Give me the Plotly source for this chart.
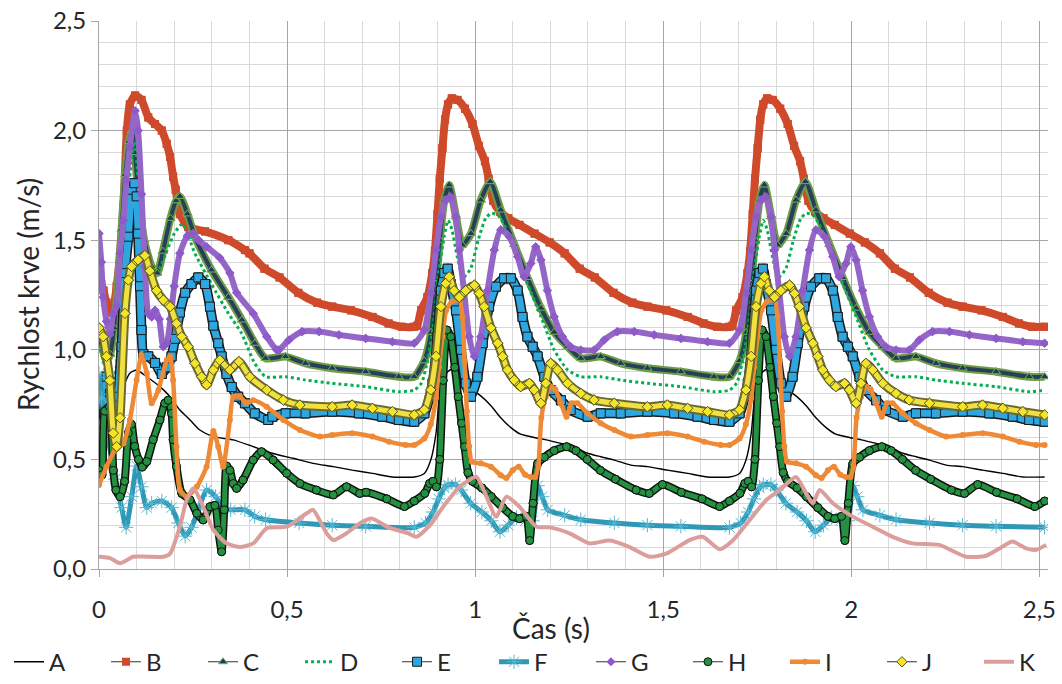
import plotly.graph_objects as go

# ---------------- data (time s, velocity m/s) ----------------
T_CYCLE = 0.838          # heart-cycle length read from the repeating peaks
X_END = 2.523

SERIES_NAMES = ["A", "B", "C", "D", "E", "F", "G", "H", "I", "J", "K"]
X_TICKS = [0, 0.5, 1, 1.5, 2, 2.5]
X_TICK_TEXT = ["0", "0,5", "1", "1,5", "2", "2,5"]
Y_TICKS = [0, 0.5, 1, 1.5, 2, 2.5]
Y_TICK_TEXT = ["0,0", "0,5", "1,0", "1,5", "2,0", "2,5"]

# first cycle (as read) and the repeating cycle (relative time, as read from cycles 2-3)
A_first = [(0, 0.46), (0.012, 0.44), (0.028, 0.5), (0.038, 0.558), (0.051, 0.71), (0.065, 0.832), (0.082, 0.893),
           (0.1, 0.908), (0.127, 0.877), (0.162, 0.832), (0.189, 0.786), (0.215, 0.725), (0.242, 0.68),
           (0.268, 0.634), (0.304, 0.604), (0.357, 0.589), (0.41, 0.558), (0.463, 0.527), (0.516, 0.505),
           (0.569, 0.482), (0.623, 0.467), (0.673, 0.451)]
A_cycle = [(0, 0.42), (0.027, 0.436), (0.044, 0.497), (0.058, 0.62), (0.066, 0.77), (0.075, 0.86), (0.089, 0.9),
           (0.1, 0.91), (0.115, 0.865), (0.133, 0.835), (0.155, 0.815), (0.177, 0.79), (0.204, 0.745), (0.23, 0.69),
           (0.257, 0.645), (0.283, 0.615), (0.319, 0.6), (0.354, 0.588), (0.39, 0.573), (0.425, 0.558),
           (0.461, 0.528), (0.496, 0.512), (0.532, 0.497), (0.576, 0.474), (0.62, 0.467), (0.673, 0.451),
           (0.727, 0.436), (0.78, 0.42), (0.838, 0.42)]

B_first = [(0, 1.372), (0.006, 1.3), (0.012, 1.27), (0.02, 1.215), (0.03, 1.17), (0.038, 1.19), (0.047, 1.29),
           (0.056, 1.44), (0.065, 1.65), (0.074, 2.0), (0.082, 2.12), (0.096, 2.16), (0.113, 2.14), (0.131, 2.06),
           (0.149, 2.03), (0.167, 2.0), (0.18, 1.94), (0.189, 1.88), (0.197, 1.79), (0.204, 1.73), (0.215, 1.62),
           (0.237, 1.56), (0.282, 1.54), (0.344, 1.5), (0.388, 1.455)]
B_cycle = [(0, 1.105), (0.008, 1.11), (0.018, 1.18), (0.035, 1.24), (0.048, 1.35), (0.055, 1.45), (0.062, 1.62),
           (0.068, 1.78), (0.075, 1.92), (0.082, 2.05), (0.09, 2.12), (0.1, 2.147), (0.115, 2.14), (0.135, 2.1),
           (0.155, 2.03), (0.172, 1.93), (0.188, 1.86), (0.198, 1.78), (0.21, 1.68), (0.228, 1.63), (0.25, 1.6),
           (0.28, 1.57), (0.32, 1.53), (0.36, 1.49), (0.4, 1.44), (0.44, 1.37), (0.48, 1.33), (0.53, 1.26),
           (0.58, 1.215), (0.62, 1.197), (0.67, 1.18), (0.727, 1.15), (0.77, 1.12), (0.805, 1.105), (0.838, 1.105)]

C_first = [(0, 1.06), (0.01, 1.0), (0.02, 0.95), (0.03, 0.98), (0.04, 1.1), (0.05, 1.3), (0.06, 1.55), (0.07, 1.8),
           (0.08, 1.95), (0.088, 2.0), (0.095, 1.9), (0.105, 1.7), (0.12, 1.5), (0.14, 1.38), (0.155, 1.35),
           (0.17, 1.45), (0.19, 1.6), (0.205, 1.68), (0.215, 1.7), (0.235, 1.62), (0.255, 1.516), (0.299, 1.364),
           (0.344, 1.24), (0.38, 1.136), (0.414, 1.03)]
C_cycle = [(0, 0.877), (0.027, 0.95), (0.045, 1.08), (0.058, 1.3), (0.068, 1.5), (0.08, 1.683), (0.093, 1.752),
           (0.111, 1.607), (0.128, 1.478), (0.151, 1.53), (0.177, 1.683), (0.202, 1.767), (0.23, 1.638),
           (0.266, 1.48), (0.301, 1.33), (0.337, 1.19), (0.372, 1.08), (0.408, 1.014), (0.443, 0.961),
           (0.496, 0.969), (0.549, 0.938), (0.62, 0.916), (0.709, 0.9), (0.797, 0.877), (0.838, 0.877)]

D_first = [(0, 1.08), (0.012, 0.95), (0.025, 0.86), (0.04, 0.87), (0.055, 1.1), (0.07, 1.5), (0.085, 1.85),
           (0.095, 1.95), (0.105, 1.75), (0.12, 1.5), (0.14, 1.36), (0.16, 1.37), (0.18, 1.45), (0.2, 1.53),
           (0.222, 1.575), (0.255, 1.44), (0.299, 1.3), (0.344, 1.166), (0.379, 1.075), (0.414, 0.938)]
D_cycle = [(0, 0.816), (0.02, 0.85), (0.035, 0.95), (0.05, 1.1), (0.065, 1.35), (0.08, 1.52), (0.09, 1.59),
           (0.1, 1.55), (0.115, 1.42), (0.13, 1.33), (0.15, 1.37), (0.17, 1.5), (0.19, 1.6), (0.205, 1.623),
           (0.225, 1.61), (0.25, 1.53), (0.266, 1.455), (0.301, 1.303), (0.337, 1.151), (0.372, 1.0),
           (0.408, 0.908), (0.443, 0.877), (0.496, 0.877), (0.549, 0.862), (0.62, 0.847), (0.709, 0.832),
           (0.797, 0.809), (0.838, 0.816)]

E_first = [(0, 0.55), (0.011, 0.665), (0.02, 0.877), (0.029, 0.8), (0.038, 0.68), (0.047, 0.68), (0.051, 0.786),
           (0.06, 1.014), (0.069, 1.35), (0.078, 1.516), (0.087, 1.73), (0.094, 1.76), (0.1, 1.7), (0.104, 1.53),
           (0.109, 1.29), (0.113, 1.09), (0.118, 0.98), (0.131, 0.97), (0.149, 0.94), (0.167, 0.89), (0.18, 0.92),
           (0.193, 0.97), (0.202, 1.05), (0.215, 1.17), (0.229, 1.26), (0.246, 1.3), (0.264, 1.33), (0.282, 1.3),
           (0.295, 1.197), (0.304, 1.11), (0.317, 1.03), (0.326, 0.97), (0.339, 0.89), (0.353, 0.83),
           (0.37, 0.786), (0.388, 0.756), (0.414, 0.71), (0.45, 0.68)]
E_cycle = [(0, 0.672), (0.027, 0.71), (0.049, 0.847), (0.062, 1.06), (0.071, 1.27), (0.08, 1.35), (0.089, 1.37),
           (0.097, 1.3), (0.111, 1.18), (0.124, 1.0), (0.137, 0.847), (0.151, 0.786), (0.168, 0.877), (0.182, 1.03),
           (0.199, 1.197), (0.217, 1.288), (0.239, 1.326), (0.257, 1.326), (0.275, 1.27), (0.288, 1.15),
           (0.301, 1.06), (0.315, 1.014), (0.328, 0.97), (0.346, 0.877), (0.363, 0.816), (0.39, 0.77),
           (0.416, 0.725), (0.461, 0.695), (0.496, 0.71), (0.549, 0.71), (0.62, 0.718), (0.691, 0.71),
           (0.753, 0.695), (0.797, 0.68), (0.838, 0.672)]

F_first = [(0, 0.89), (0.007, 0.78), (0.025, 0.59), (0.043, 0.41), (0.06, 0.28), (0.072, 0.19), (0.087, 0.33),
           (0.1, 0.47), (0.113, 0.375), (0.127, 0.28), (0.14, 0.3), (0.167, 0.31), (0.193, 0.28), (0.211, 0.21),
           (0.229, 0.15), (0.246, 0.19), (0.264, 0.27), (0.286, 0.36), (0.31, 0.33), (0.33, 0.28), (0.35, 0.27),
           (0.388, 0.27), (0.414, 0.24)]
F_cycle = [(0, 0.2), (0.03, 0.21), (0.05, 0.26), (0.065, 0.32), (0.08, 0.37), (0.09, 0.385), (0.11, 0.385),
           (0.125, 0.36), (0.15, 0.3), (0.18, 0.26), (0.205, 0.22), (0.228, 0.17), (0.25, 0.2), (0.272, 0.235),
           (0.295, 0.22), (0.315, 0.22), (0.328, 0.38), (0.34, 0.33), (0.355, 0.27), (0.4, 0.245), (0.443, 0.225),
           (0.532, 0.21), (0.62, 0.2), (0.709, 0.195), (0.838, 0.19)]

G_first = [(0, 1.53), (0.006, 1.4), (0.011, 1.24), (0.02, 1.13), (0.029, 1.07), (0.038, 1.166), (0.047, 1.2),
           (0.056, 1.44), (0.065, 1.59), (0.073, 1.775), (0.082, 1.927), (0.096, 2.09), (0.104, 2.0), (0.113, 1.71),
           (0.122, 1.38), (0.131, 1.166), (0.14, 1.15), (0.149, 1.18), (0.16, 1.14), (0.171, 1.014), (0.18, 1.03),
           (0.19, 1.14), (0.2, 1.29), (0.215, 1.44), (0.235, 1.52), (0.25, 1.53), (0.265, 1.5), (0.286, 1.47),
           (0.321, 1.42), (0.348, 1.35), (0.366, 1.26), (0.41, 1.166), (0.446, 1.06), (0.472, 1.0)]
G_cycle = [(0, 1.03), (0.027, 1.09), (0.044, 1.258), (0.058, 1.455), (0.071, 1.607), (0.084, 1.683),
           (0.097, 1.698), (0.111, 1.607), (0.12, 1.455), (0.133, 1.258), (0.146, 1.06), (0.16, 0.97),
           (0.177, 1.06), (0.195, 1.27), (0.213, 1.455), (0.23, 1.547), (0.253, 1.516), (0.275, 1.425),
           (0.292, 1.333), (0.31, 1.394), (0.323, 1.47), (0.337, 1.41), (0.354, 1.27), (0.372, 1.151),
           (0.394, 1.06), (0.416, 1.014), (0.443, 0.999), (0.478, 0.999), (0.505, 1.045), (0.54, 1.083),
           (0.585, 1.083), (0.638, 1.068), (0.709, 1.052), (0.78, 1.037), (0.838, 1.03)]

H_first = [(0, 0.45), (0.008, 0.43), (0.015, 0.72), (0.028, 0.74), (0.038, 0.45), (0.045, 0.36), (0.056, 0.33),
           (0.068, 0.4), (0.078, 0.62), (0.086, 0.66), (0.095, 0.56), (0.105, 0.5), (0.115, 0.465), (0.127, 0.49),
           (0.144, 0.59), (0.162, 0.68), (0.175, 0.756), (0.184, 0.77), (0.193, 0.71), (0.197, 0.59),
           (0.206, 0.467), (0.22, 0.345), (0.242, 0.315), (0.26, 0.254), (0.277, 0.224), (0.295, 0.284),
           (0.308, 0.29), (0.317, 0.178), (0.326, 0.079), (0.333, 0.27), (0.339, 0.47), (0.348, 0.45),
           (0.357, 0.39), (0.366, 0.368), (0.383, 0.406), (0.41, 0.497), (0.432, 0.535), (0.463, 0.497),
           (0.499, 0.437), (0.534, 0.39), (0.578, 0.36), (0.623, 0.338), (0.658, 0.375), (0.693, 0.345)]
H_cycle = [(0, 0.31), (0.028, 0.345), (0.041, 0.39), (0.05, 0.4), (0.059, 0.375), (0.068, 0.5), (0.077, 0.86),
           (0.087, 1.09), (0.097, 1.06), (0.108, 0.92), (0.117, 0.786), (0.126, 0.665), (0.134, 0.558),
           (0.143, 0.44), (0.155, 0.4), (0.18, 0.37), (0.205, 0.33), (0.235, 0.28), (0.262, 0.24), (0.28, 0.23),
           (0.298, 0.24), (0.307, 0.13), (0.316, 0.3), (0.328, 0.48), (0.346, 0.51), (0.372, 0.54), (0.405, 0.558),
           (0.43, 0.54), (0.46, 0.5), (0.495, 0.45), (0.535, 0.41), (0.59, 0.36), (0.625, 0.345), (0.66, 0.385),
           (0.71, 0.35), (0.765, 0.32), (0.812, 0.285), (0.838, 0.31)]

I_first = [(0, 0.383), (0.02, 0.467), (0.043, 0.543), (0.065, 0.573), (0.082, 0.68), (0.1, 0.862), (0.113, 0.976),
           (0.127, 0.893), (0.14, 0.756), (0.158, 0.817), (0.18, 0.953), (0.189, 0.969), (0.197, 0.862),
           (0.206, 0.558), (0.215, 0.36), (0.233, 0.33), (0.26, 0.375), (0.286, 0.467), (0.304, 0.63),
           (0.317, 0.558), (0.33, 0.467), (0.348, 0.68), (0.357, 0.786), (0.375, 0.786), (0.392, 0.756),
           (0.41, 0.77), (0.446, 0.74), (0.49, 0.68), (0.534, 0.634), (0.587, 0.604)]
I_cycle = [(0, 0.566), (0.027, 0.595), (0.044, 0.66), (0.058, 0.78), (0.066, 0.92), (0.075, 1.06), (0.085, 1.18),
           (0.1, 1.22), (0.12, 1.227), (0.128, 1.151), (0.134, 0.95), (0.14, 0.72), (0.146, 0.56), (0.153, 0.49),
           (0.177, 0.482), (0.204, 0.467), (0.23, 0.428), (0.245, 0.415), (0.262, 0.45), (0.278, 0.467),
           (0.295, 0.43), (0.31, 0.42), (0.322, 0.42), (0.33, 0.47), (0.338, 0.69), (0.35, 0.786), (0.363, 0.832),
           (0.375, 0.82), (0.39, 0.756), (0.405, 0.695), (0.418, 0.756), (0.434, 0.756), (0.461, 0.71),
           (0.496, 0.665), (0.532, 0.634), (0.576, 0.604), (0.62, 0.611), (0.673, 0.619), (0.727, 0.604),
           (0.771, 0.581), (0.815, 0.566), (0.838, 0.566)]

J_first = [(0, 1.1), (0.011, 1.06), (0.02, 0.97), (0.029, 0.86), (0.038, 0.62), (0.047, 0.558), (0.056, 0.69),
           (0.069, 1.166), (0.078, 1.318), (0.087, 1.38), (0.104, 1.41), (0.122, 1.43), (0.135, 1.36),
           (0.153, 1.27), (0.171, 1.227), (0.189, 1.197), (0.206, 1.12), (0.22, 1.06), (0.237, 1.014),
           (0.255, 0.938), (0.273, 0.877), (0.286, 0.84), (0.304, 0.908), (0.321, 0.953), (0.348, 0.908),
           (0.372, 0.946), (0.401, 0.877), (0.446, 0.817), (0.49, 0.771), (0.534, 0.748)]
J_cycle = [(0, 0.703), (0.027, 0.726), (0.044, 0.817), (0.058, 0.97), (0.071, 1.197), (0.084, 1.303),
           (0.093, 1.333), (0.106, 1.27), (0.12, 1.24), (0.137, 1.27), (0.16, 1.295), (0.173, 1.257),
           (0.186, 1.197), (0.204, 1.1), (0.222, 1.03), (0.235, 0.97), (0.248, 0.908), (0.266, 0.862),
           (0.283, 0.832), (0.306, 0.847), (0.319, 0.817), (0.337, 0.756), (0.35, 0.847), (0.363, 0.938),
           (0.381, 0.908), (0.408, 0.847), (0.443, 0.801), (0.478, 0.771), (0.532, 0.756), (0.62, 0.74),
           (0.673, 0.748), (0.727, 0.733), (0.78, 0.718), (0.838, 0.703)]

K_points = [(0, 0.056), (0.029, 0.05), (0.056, 0.026), (0.091, 0.056), (0.127, 0.056), (0.171, 0.056),
            (0.189, 0.07), (0.215, 0.193), (0.233, 0.315), (0.251, 0.368), (0.277, 0.284), (0.304, 0.178),
            (0.339, 0.117), (0.375, 0.1), (0.41, 0.117), (0.446, 0.186), (0.499, 0.193), (0.552, 0.254),
            (0.569, 0.27), (0.605, 0.163), (0.623, 0.132), (0.658, 0.163), (0.693, 0.208), (0.725, 0.23),
            (0.769, 0.19), (0.822, 0.163), (0.844, 0.147), (0.88, 0.2), (0.915, 0.284), (0.959, 0.375),
            (1.003, 0.42), (1.03, 0.33), (1.056, 0.239), (1.083, 0.33), (1.118, 0.284), (1.163, 0.193),
            (1.198, 0.19), (1.251, 0.163), (1.304, 0.117), (1.358, 0.13), (1.411, 0.1), (1.464, 0.056),
            (1.508, 0.07), (1.57, 0.132), (1.605, 0.147), (1.65, 0.09), (1.685, 0.13), (1.73, 0.224),
            (1.774, 0.315), (1.81, 0.36), (1.853, 0.42), (1.88, 0.345), (1.898, 0.3), (1.916, 0.36),
            (1.951, 0.3), (2.004, 0.239), (2.057, 0.193), (2.11, 0.147), (2.163, 0.117), (2.234, 0.11),
            (2.305, 0.056), (2.358, 0.06), (2.394, 0.094), (2.429, 0.125), (2.465, 0.094), (2.491, 0.087),
            (2.518, 0.11)]


def assemble(first, cycle):
    """First cycle as read, then the read repeating cycle placed at the 2nd and 3rd beats."""
    last = first[-1][0]
    pts = list(first) + [p for p in cycle if p[0] > last]
    for k in (1, 2):
        off = k * T_CYCLE
        pts += [(t + off, v) for t, v in cycle if t > 0 and t + off <= X_END]
    return [p[0] for p in pts], [p[1] for p in pts]


DATA = {
    "A": assemble(A_first, A_cycle),
    "B": assemble(B_first, B_cycle),
    "C": assemble(C_first, C_cycle),
    "D": assemble(D_first, D_cycle),
    "E": assemble(E_first, E_cycle),
    "F": assemble(F_first, F_cycle),
    "G": assemble(G_first, G_cycle),
    "H": assemble(H_first, H_cycle),
    "I": assemble(I_first, I_cycle),
    "J": assemble(J_first, J_cycle),
    "K": ([p[0] for p in K_points], [p[1] for p in K_points]),
}

# ---------------- styles ----------------
# bands: (color, width) ribbons drawn under the markers to mimic the dense marker runs
STYLE = {
    "A": dict(line=("#000000", 1.4)),
    "B": dict(marker=dict(symbol="square", size=8, color="#cf4a2b", line=dict(width=0)),
              bands=[("#cf4a2b", 8)]),
    "C": dict(marker=dict(symbol="triangle-up", size=8, color="#203864", line=dict(color="#7ab648", width=1)),
              bands=[("#6f9a48", 8), ("#26405a", 4)]),
    "D": dict(line=("#00b050", 3), dash="dot"),
    "E": dict(marker=dict(symbol="square", size=9, color="#2ea7e0", line=dict(color="#1a1a1a", width=1)),
              bands=[("#1a1a1a", 10), ("#2ea7e0", 7)]),
    "F": dict(line=("#2e98b6", 5), marker=dict(symbol="asterisk-open", size=12, color="#55b8d2",
                                                 line=dict(color="#55b8d2", width=1))),
    "G": dict(marker=dict(symbol="diamond", size=7, color="#8e5ac8", line=dict(width=0)),
              bands=[("#9466c8", 6)]),
    "H": dict(marker=dict(symbol="circle", size=8, color="#23913f", line=dict(color="#111111", width=1)),
              bands=[("#111111", 8), ("#23913f", 5)]),
    "I": dict(line=("#ee8a36", 4.5), marker=dict(symbol="circle", size=6, color="#ee8a36", line=dict(width=0))),
    "J": dict(marker=dict(symbol="diamond", size=8, color="#f4e526", line=dict(color="#55552a", width=1)),
              bands=[("#6b6a2e", 9), ("#f0e040", 5)]),
    "K": dict(line=("#dc9e9b", 4)),
}
LEGEND_OF = {n: ("legend" if n in "ABCDEF" else "legend2") for n in SERIES_NAMES}

SPLINE = dict(shape="spline", smoothing=0.6)

fig = go.Figure()
for name in SERIES_NAMES:
    xs, ys = DATA[name]
    st = STYLE[name]
    lg = LEGEND_OF[name]
    if "bands" in st:
        # legend entry look: thin black connector with marker
        fig.add_trace(go.Scatter(x=xs, y=ys, name=name, mode="lines+markers", legend=lg,
                                 line=dict(color="#333333", width=1, **SPLINE), marker=st["marker"]))
        for col, w in st["bands"]:
            fig.add_trace(go.Scatter(x=xs, y=ys, mode="lines", showlegend=False, hoverinfo="skip",
                                     line=dict(color=col, width=w, **SPLINE)))
        fig.add_trace(go.Scatter(x=xs, y=ys, mode="markers", showlegend=False, hoverinfo="skip",
                                 marker=st["marker"]))
    else:
        col, w = st["line"]
        mode = "lines+markers" if "marker" in st else "lines"
        kw = dict(marker=st["marker"]) if "marker" in st else {}
        fig.add_trace(go.Scatter(x=xs, y=ys, name=name, mode=mode, legend=lg,
                                 line=dict(color=col, width=w, dash=st.get("dash", "solid"), **SPLINE), **kw))

FONT = "Lato, 'Open Sans', sans-serif"
axis_common = dict(
    showgrid=True, gridcolor="#a6a6a6", gridwidth=1, zeroline=False,
    showline=True, linecolor="#a6a6a6", linewidth=1,
    ticks="outside", ticklen=7, tickcolor="#a6a6a6", tickwidth=1,
    tickfont=dict(family=FONT, size=24, color="#262626"),
    minor=dict(tickmode="linear", tick0=0, dtick=0.1, showgrid=True, gridcolor="#d9d9d9", gridwidth=1, ticks=""),
    automargin=False,
)
fig.update_xaxes(range=[0, X_END], tickmode="array", tickvals=X_TICKS, ticktext=X_TICK_TEXT,
                 ticklabelstandoff=12, **axis_common)
fig.update_yaxes(range=[0, 2.5], tickmode="array", tickvals=Y_TICKS, ticktext=Y_TICK_TEXT, **axis_common)

legend_common = dict(orientation="h", xanchor="left", y=-0.170, yanchor="middle",
                     font=dict(family=FONT, size=24, color="#262626"), entrywidth=52, entrywidthmode="pixels",
                     itemwidth=30, bgcolor="rgba(0,0,0,0)", traceorder="normal", tracegroupgap=0)

fig.update_layout(
    width=1062, height=684,
    margin=dict(l=99, r=14, t=21, b=115, pad=0, autoexpand=False),
    paper_bgcolor="white", plot_bgcolor="white",
    font=dict(family=FONT, size=24, color="#262626"),
    showlegend=True,
    legend=dict(x=-0.0948, **legend_common),
    legend2=dict(x=0.5184, **legend_common),
    annotations=[
        dict(text="Čas (s)", xref="paper", yref="paper", x=0.4763, y=-0.1077, showarrow=False,
             xanchor="center", yanchor="middle", font=dict(family=FONT, size=28, color="#262626")),
        dict(text="Rychlost krve (m/s)", xref="paper", yref="paper", x=-0.0748, y=0.5, showarrow=False,
             textangle=-90, xanchor="center", yanchor="middle", font=dict(family=FONT, size=28, color="#262626")),
    ],
)

fig.write_html("out.html")
